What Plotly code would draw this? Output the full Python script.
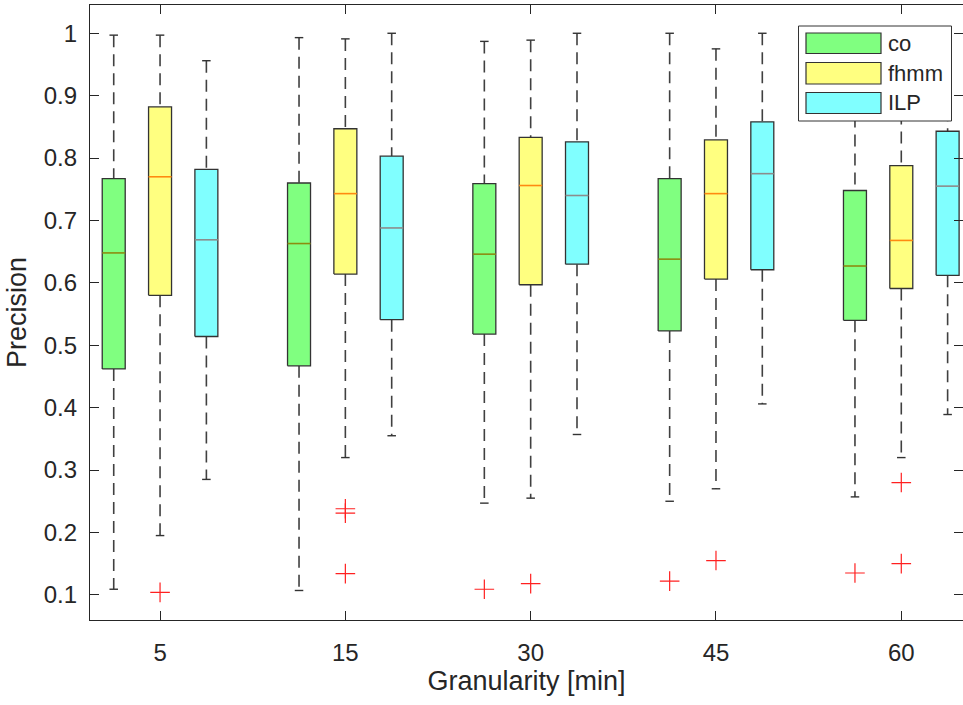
import plotly.graph_objects as go

granularity = ["5", "15", "30", "45", "60"]
series_names = ["co", "fhmm", "ILP"]

co_whislo = [0.109, 0.107, 0.247, 0.250, 0.257]
co_q1 = [0.462, 0.467, 0.518, 0.523, 0.540]
co_med = [0.648, 0.663, 0.646, 0.638, 0.627]
co_q3 = [0.767, 0.760, 0.759, 0.767, 0.748]
co_whishi = [0.997, 0.993, 0.987, 1.000, 0.990]
co_outliers = [[], [], [0.109], [0.122], [0.135]]

fhmm_whislo = [0.195, 0.320, 0.255, 0.270, 0.320]
fhmm_q1 = [0.580, 0.614, 0.597, 0.606, 0.591]
fhmm_med = [0.770, 0.743, 0.756, 0.743, 0.668]
fhmm_q3 = [0.882, 0.847, 0.833, 0.829, 0.788]
fhmm_whishi = [0.997, 0.991, 0.989, 0.975, 0.995]
fhmm_outliers = [[0.104], [0.238, 0.231, 0.134], [0.118], [0.155], [0.280, 0.150]]

ilp_whislo = [0.285, 0.355, 0.357, 0.406, 0.389]
ilp_q1 = [0.514, 0.541, 0.630, 0.621, 0.612]
ilp_med = [0.669, 0.688, 0.740, 0.775, 0.755]
ilp_q3 = [0.782, 0.803, 0.826, 0.858, 0.843]
ilp_whishi = [0.956, 1.000, 1.000, 1.000, 1.000]
ilp_outliers = [[], [], [], [], []]

fills = ["#80FF80", "#FFFF80", "#80FFFF"]
median_colors = ["#8C8C10", "#FF8A10", "#8C8C8C"]
offsets = [-0.25, 0.0, 0.25]
half_w = 0.062
cap_w = 0.023

series = [
    (co_whislo, co_q1, co_med, co_q3, co_whishi, co_outliers),
    (fhmm_whislo, fhmm_q1, fhmm_med, fhmm_q3, fhmm_whishi, fhmm_outliers),
    (ilp_whislo, ilp_q1, ilp_med, ilp_q3, ilp_whishi, ilp_outliers),
]

fig = go.Figure()
for s, (wlo, q1, med, q3, whi, outs) in enumerate(series):
    wx, wy, cx, cy, bx, by, mx, my, ox, oy = [], [], [], [], [], [], [], [], [], []
    for i in range(len(granularity)):
        xc = i + 1 + offsets[s]
        wx += [xc, xc, None, xc, xc, None]
        wy += [whi[i], q3[i], None, q1[i], wlo[i], None]
        cx += [xc - cap_w, xc + cap_w, None, xc - cap_w, xc + cap_w, None]
        cy += [whi[i], whi[i], None, wlo[i], wlo[i], None]
        bx += [xc - half_w, xc + half_w, xc + half_w, xc - half_w, xc - half_w, None]
        by += [q1[i], q1[i], q3[i], q3[i], q1[i], None]
        mx += [xc - half_w, xc + half_w, None]
        my += [med[i], med[i], None]
        for v in outs[i]:
            ox.append(xc)
            oy.append(v)
    fig.add_trace(go.Scatter(x=wx, y=wy, mode="lines", line=dict(color="#404040", width=1.6, dash="12px,7px"),
                             showlegend=False, hoverinfo="skip"))
    fig.add_trace(go.Scatter(x=cx, y=cy, mode="lines", line=dict(color="#333333", width=1.4),
                             showlegend=False, hoverinfo="skip"))
    fig.add_trace(go.Scatter(x=bx, y=by, mode="lines", fill="toself", fillcolor=fills[s],
                             line=dict(color="#333333", width=1.3), name=series_names[s], showlegend=False))
    fig.add_trace(go.Scatter(x=mx, y=my, mode="lines", line=dict(color=median_colors[s], width=1.6),
                             showlegend=False, hoverinfo="skip"))
    if ox:
        fig.add_trace(go.Scatter(x=ox, y=oy, mode="markers",
                                 marker=dict(symbol="cross-thin", size=14, line=dict(color="#FF2020", width=1.2)),
                                 showlegend=False))

# custom MATLAB-style legend (paper coordinates)
L, R, T, B = 90.0, 963.0, 5.0, 620.0
def px(x):
    return (x - L) / (R - L)
def py(y):
    return (B - y) / (B - T)

shapes = [dict(type="rect", xref="paper", yref="paper", x0=px(798.5), x1=px(951.5), y0=py(121), y1=py(26),
               fillcolor="white", line=dict(color="#333333", width=1), layer="above")]
annotations = []
rows = [(33, 53.5), (62.5, 84), (92.5, 113.5)]
for s, (y0, y1) in enumerate(rows):
    shapes.append(dict(type="rect", xref="paper", yref="paper", x0=px(806), x1=px(881), y0=py(y1), y1=py(y0),
                       fillcolor=fills[s], line=dict(color="#333333", width=1.2), layer="above"))
    annotations.append(dict(xref="paper", yref="paper", x=px(886), y=py((y0 + y1) / 2), text=series_names[s],
                            showarrow=False, xanchor="left", yanchor="middle",
                            font=dict(size=22, color="#262626", family="Liberation Sans, Arial, sans-serif")))

fig.update_layout(
    width=963, height=705,
    margin=dict(l=90, r=0, t=5, b=85),
    paper_bgcolor="white", plot_bgcolor="white",
    font=dict(family="Liberation Sans, Arial, sans-serif", color="#262626", size=24),
    shapes=shapes, annotations=annotations,
    showlegend=False,
)
fig.update_xaxes(
    range=[0.622, 5.333], tickvals=[1, 2, 3, 4, 5], ticktext=granularity,
    ticks="inside", ticklen=9, tickcolor="#262626", showline=True, linecolor="#262626", linewidth=1.2,
    mirror="ticks", showgrid=False, zeroline=False, ticklabelstandoff=11,
    title=dict(text="Granularity [min]", font=dict(size=27), standoff=5),
)
fig.update_yaxes(
    range=[0.0597, 1.0453], tickvals=[0.1, 0.2, 0.3, 0.4, 0.5, 0.6, 0.7, 0.8, 0.9, 1.0],
    ticktext=["0.1", "0.2", "0.3", "0.4", "0.5", "0.6", "0.7", "0.8", "0.9", "1"],
    ticks="inside", ticklen=9, tickcolor="#262626", showline=True, linecolor="#262626", linewidth=1.2,
    mirror="ticks", showgrid=False, zeroline=False, ticklabelstandoff=7,
    title=dict(text="Precision", font=dict(size=27), standoff=9),
)
fig.write_html("out.html")
